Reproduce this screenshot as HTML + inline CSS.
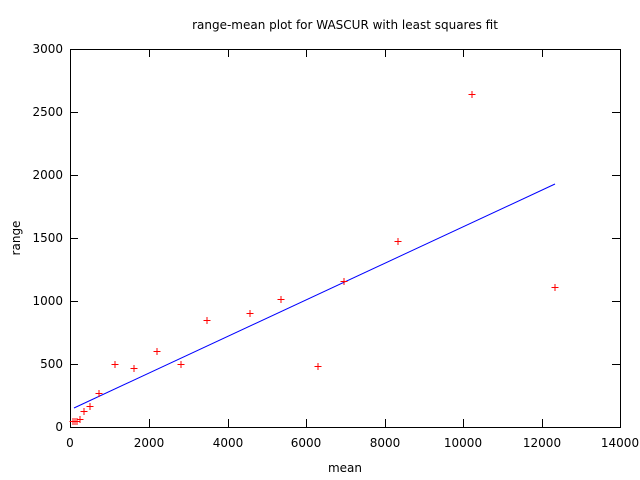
<!DOCTYPE html>
<html><head><style>body{margin:0;background:#fff}svg{display:block}text{font-family:"DejaVu Sans","Liberation Sans",sans-serif;font-size:12px;fill:#000}</style></head><body>
<svg width="640" height="480" viewBox="0 0 640 480">
<text x="345" y="29" text-anchor="middle">range-mean plot for WASCUR with least squares fit</text>
<rect x="70.5" y="49.5" width="550" height="378" fill="none" stroke="#000" stroke-width="1"/>
<g stroke="#000" stroke-width="1">
<path d="M70 427.5h8M70 364.5h8M70 301.5h8M70 238.5h8M70 175.5h8M70 112.5h8M70 49.5h8"/>
<path d="M620 427.5h-8M620 364.5h-8M620 301.5h-8M620 238.5h-8M620 175.5h-8M620 112.5h-8M620 49.5h-8"/>
<path d="M149.5 427v-8M228.5 427v-8M306.5 427v-8M385.5 427v-8M463.5 427v-8M542.5 427v-8"/>
<path d="M149.5 49v8M228.5 49v8M306.5 49v8M385.5 49v8M463.5 49v8M542.5 49v8"/>
</g>
<g text-anchor="end">
<text x="63" y="431">0</text><text x="63" y="368">500</text><text x="63" y="305">1000</text><text x="63" y="242">1500</text><text x="63" y="179">2000</text><text x="63" y="116">2500</text><text x="63" y="53">3000</text>
</g>
<g text-anchor="middle">
<text x="70" y="447">0</text><text x="149" y="447">2000</text><text x="228" y="447">4000</text><text x="306" y="447">6000</text><text x="385" y="447">8000</text><text x="463" y="447">10000</text><text x="542" y="447">12000</text><text x="620" y="447">14000</text>
<text x="345" y="472">mean</text>
</g>
<text transform="translate(20 238) rotate(-90)" text-anchor="middle">range</text>
<line x1="74" y1="408" x2="555" y2="184" stroke="#00f" stroke-width="1"/>
<g stroke="#f00" stroke-width="1" fill="none">
<path d="M73 418v7M69.5 421.5h7M75 418v7M71.5 421.5h7M77 418v7M73.5 421.5h7M80 416v7M76.5 419.5h7M84 408v7M80.5 411.5h7M90 403v7M86.5 406.5h7M99 390v7M95.5 393.5h7M115 361v7M111.5 364.5h7M134 365v7M130.5 368.5h7M157 348v7M153.5 351.5h7M181 361v7M177.5 364.5h7M207 317v7M203.5 320.5h7M250 310v7M246.5 313.5h7M281 296v7M277.5 299.5h7M318 363v7M314.5 366.5h7M344 278v7M340.5 281.5h7M398 238v7M394.5 241.5h7M472 91v7M468.5 94.5h7M555 284v7M551.5 287.5h7"/>
</g>
</svg>
</body></html>
